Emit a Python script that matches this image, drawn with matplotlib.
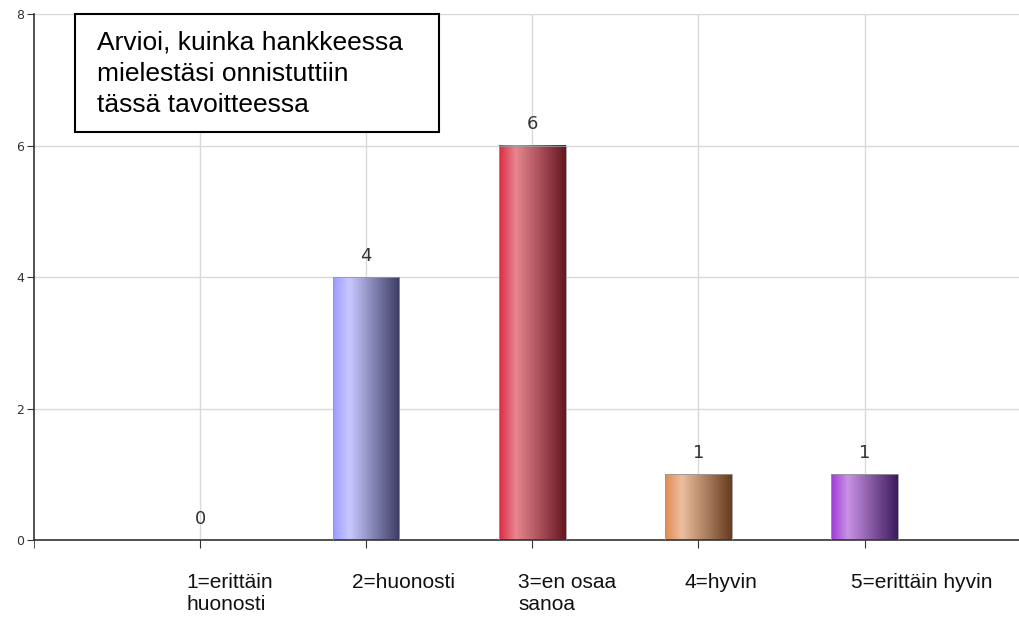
import numpy as np
import matplotlib
matplotlib.use("Agg")
import matplotlib.pyplot as plt
from matplotlib.colors import LinearSegmentedColormap
from matplotlib.patches import Rectangle
import matplotlib.transforms as mtransforms

# data
categories = ["1=erittäin\nhuonosti", "2=huonosti", "3=en osaa\nsanoa", "4=hyvin", "5=erittäin hyvin"]
values = [0, 4, 6, 1, 1]
title_text = "Arvioi, kuinka hankkeessa\nmielestäsi onnistuttiin\ntässä tavoitteessa"
yticks = [0, 2, 4, 6, 8]

# gradient colours per bar: edge, highlight, dark
bar_colors = [
    ("#4f9f4f", "#9fd09f", "#204020"),
    ("#9c9cff", "#c8c8ff", "#3a3a62"),
    ("#dc2a42", "#e8868f", "#661620"),
    ("#e28a52", "#ecbe9e", "#663c1e"),
    ("#9e3ad8", "#c992e4", "#3c1a5c"),
]

fig = plt.figure(figsize=(10.19, 6.18), dpi=100)
ax = fig.add_axes([0.0334, 0.1262, 0.9666, 0.8511])

x = np.arange(len(categories))
bars = ax.bar(x, values, width=0.4, color="none", edgecolor="#999999", linewidth=0.6, zorder=3)

# gradient fill on each bar
grad = np.linspace(0, 1, 256).reshape(1, -1)
for b, cols in zip(bars, bar_colors):
    h = b.get_height()
    if h <= 0:
        continue
    cmap = LinearSegmentedColormap.from_list("g", [(0, cols[0]), (0.25, cols[1]), (1, cols[2])])
    ax.imshow(grad, cmap=cmap, aspect="auto", zorder=2,
              extent=[b.get_x(), b.get_x() + b.get_width(), 0, h])

# value labels
for xi, v in zip(x, values):
    ax.annotate(str(v), (xi, v), xytext=(0, 9), textcoords="offset points",
                ha="center", va="bottom", fontsize=13, color="#333333",
                family="DejaVu Sans", zorder=5)

ax.set_xlim(-1, 4.93)
ax.set_ylim(0, 8)
ax.set_yticks(yticks)
ax.tick_params(axis="y", labelsize=9, labelcolor="#333333", length=5, color="#333333", pad=2)

ax.set_xticks(x, categories)
ax.set_xticks([-1], minor=True)
ax.tick_params(axis="x", which="both", length=6, color="#333333", pad=18,
               labelsize=15, labelcolor="#111111")
offset = mtransforms.ScaledTranslation(-14 / 100, 0, fig.dpi_scale_trans)
for lab in ax.get_xticklabels():
    lab.set_horizontalalignment("left")
    lab.set_multialignment("left")
    lab.set_family("Liberation Sans")
    lab.set_linespacing(1.2)
    lab.set_transform(lab.get_transform() + offset)

ax.grid(True, color="#d9d9d9", linewidth=1, zorder=0)
ax.set_axisbelow(True)
for s in ["top", "right"]:
    ax.spines[s].set_visible(False)
for s in ["left", "bottom"]:
    ax.spines[s].set_color("#333333")
    ax.spines[s].set_linewidth(1.2)

# title box
ax.add_patch(Rectangle((0.0416, 0.776), 0.3695, 0.224, transform=ax.transAxes,
                       facecolor="white", edgecolor="black", linewidth=1.5,
                       zorder=6, clip_on=False))
ax.text(0.064, 0.968, title_text, transform=ax.transAxes, ha="left", va="top",
        fontsize=19, family="Liberation Sans", linespacing=1.38, zorder=7)

fig.savefig("out.png", dpi=100)
